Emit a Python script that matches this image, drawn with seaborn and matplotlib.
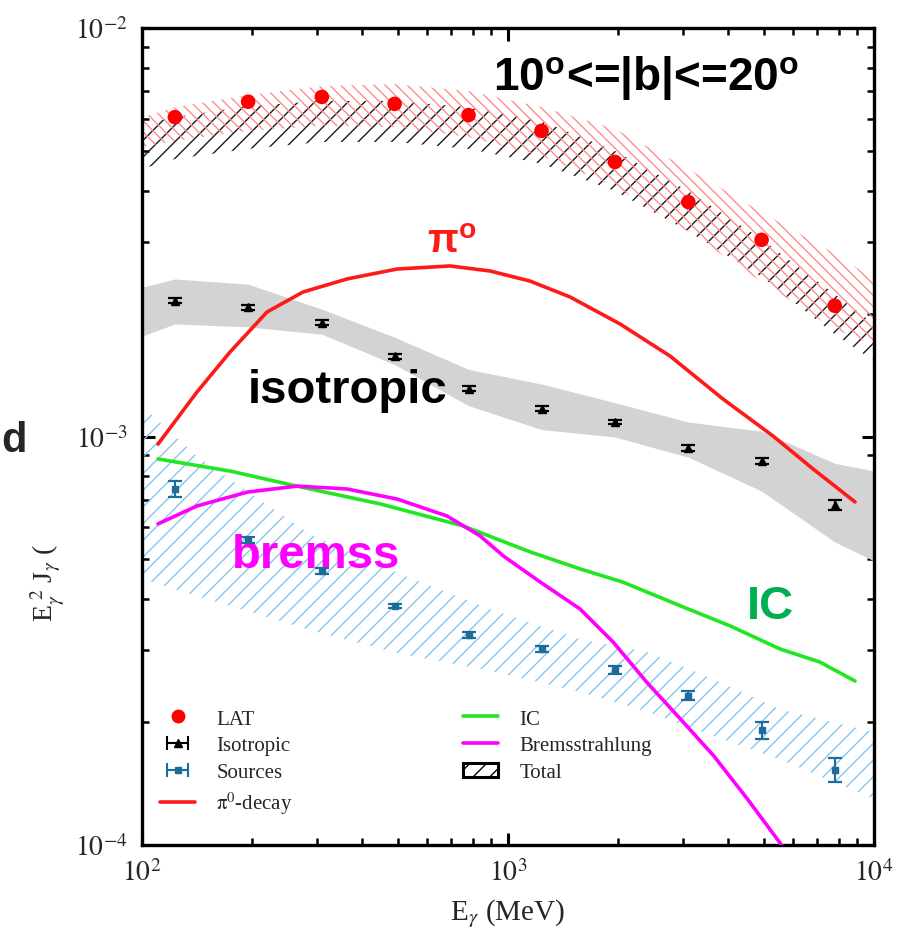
import numpy as np
import matplotlib
matplotlib.use("Agg")
import matplotlib.pyplot as plt
import seaborn as sns
from matplotlib.lines import Line2D
from matplotlib.patches import Patch
from matplotlib.ticker import NullFormatter

# ---- binned measurements (MeV, MeV cm^-2 s^-1 sr^-1) ----
energy = [123, 195, 310, 490, 780, 1235, 1960, 3110, 4930, 7810]
lat_flux = [6.05e-3, 6.6e-3, 6.78e-3, 6.52e-3, 6.12e-3, 5.6e-3, 4.70e-3, 3.75e-3, 3.03e-3, 2.09e-3]
iso_flux = [2.15e-3, 2.07e-3, 1.90e-3, 1.57e-3, 1.31e-3, 1.17e-3, 1.085e-3, 9.37e-4, 8.71e-4, 6.8e-4]
iso_err = [3e-5, 3e-5, 2.5e-5, 2e-5, 1.8e-5, 1.6e-5, 1.5e-5, 1.5e-5, 1.5e-5, 2e-5]
src_flux = [7.44e-4, 5.58e-4, 4.69e-4, 3.85e-4, 3.27e-4, 3.02e-4, 2.68e-4, 2.32e-4, 1.91e-4, 1.53e-4]
src_err = [3.4e-5, 1.0e-5, 8e-6, 5e-6, 5e-6, 5e-6, 6e-6, 6e-6, 9e-6, 1.0e-5]

# ---- uncertainty bands ----
band_energy = [100, 123, 195, 310, 490, 780, 1235, 1960, 3110, 4930, 7810, 10000]
lat_band_hi = [6.05e-3, 6.40e-3, 6.85e-3, 7.21e-3, 7.29e-3, 7.01e-3, 6.40e-3, 5.66e-3, 4.52e-3, 3.54e-3, 2.80e-3, 2.43e-3]
lat_band_lo = [5.11e-3, 5.29e-3, 5.60e-3, 5.76e-3, 5.72e-3, 5.41e-3, 4.86e-3, 4.10e-3, 3.17e-3, 2.39e-3, 1.83e-3, 1.68e-3]
tot_hi = [5.82e-3, 6.05e-3, 6.44e-3, 6.63e-3, 6.63e-3, 6.40e-3, 5.92e-3, 5.00e-3, 3.99e-3, 3.04e-3, 2.23e-3, 1.886e-3]
tot_lo = [4.52e-3, 4.78e-3, 5.06e-3, 5.26e-3, 5.26e-3, 5.06e-3, 4.65e-3, 3.99e-3, 3.18e-3, 2.46e-3, 1.78e-3, 1.53e-3]
iso_band_hi = [2.32e-3, 2.43e-3, 2.36e-3, 2.05e-3, 1.75e-3, 1.46e-3, 1.344e-3, 1.21e-3, 1.085e-3, 1.03e-3, 8.6e-4, 8.23e-4]
iso_band_lo = [1.76e-3, 1.886e-3, 1.855e-3, 1.78e-3, 1.50e-3, 1.19e-3, 1.04e-3, 9.97e-4, 8.9e-4, 7.35e-4, 5.52e-4, 4.96e-4]

src_band_energy = [100, 141, 214, 293, 507, 893, 1573, 2398, 3632, 5537, 10000]
src_band_hi = [1.188e-3, 8.96e-4, 6.915e-4, 5.71e-4, 4.61e-4, 3.78e-4, 3.19e-4, 2.97e-4, 2.55e-4, 2.15e-4, 1.89e-4]
src_band_lo = [4.48e-4, 4.07e-4, 3.64e-4, 3.34e-4, 2.94e-4, 2.67e-4, 2.37e-4, 2.12e-4, 1.85e-4, 1.62e-4, 1.296e-4]

# ---- model components ----
pi0_energy = [110.6, 141.3, 174, 219.5, 275.4, 363, 497.5, 694, 893, 1148, 1477, 2023, 2771, 3868, 5297, 6813, 8874]
pi0_flux = [9.58e-4, 1.285e-3, 1.61e-3, 2.017e-3, 2.258e-3, 2.43e-3, 2.57e-3, 2.615e-3, 2.542e-3, 2.402e-3,
            2.196e-3, 1.886e-3, 1.574e-3, 1.235e-3, 1.003e-3, 8.33e-4, 6.915e-4]
ic_energy = [110.6, 174, 265, 447, 754, 1148, 1575, 2061, 2958, 4040, 5530, 7112, 8874]
ic_flux = [8.81e-4, 8.23e-4, 7.56e-4, 6.84e-4, 6.04e-4, 5.22e-4, 4.74e-4, 4.40e-4, 3.85e-4, 3.44e-4, 3.02e-4, 2.805e-4, 2.52e-4]
brems_energy = [110.6, 141.3, 194, 265, 363, 497.5, 681, 839, 971, 1226, 1575, 1937, 2391, 2958, 3650, 4510, 6255]
brems_flux = [6.11e-4, 6.76e-4, 7.31e-4, 7.56e-4, 7.44e-4, 7.03e-4, 6.39e-4, 5.71e-4, 5.10e-4, 4.40e-4,
              3.78e-4, 3.14e-4, 2.506e-4, 2.035e-4, 1.652e-4, 1.296e-4, 8.73e-5]

# ---- axis ticks ----
xtick_values = [1e2, 1e3, 1e4]
xtick_labels = [r"$10^{2}$", r"$10^{3}$", r"$10^{4}$"]
ytick_values = [1e-4, 1e-3, 1e-2]
ytick_labels = [r"$10^{-4}$", r"$10^{-3}$", r"$10^{-2}$"]

sns.set_style("ticks")
plt.rcParams["font.family"] = ["Liberation Serif", "DejaVu Serif"]
plt.rcParams["mathtext.fontset"] = "stix"
plt.rcParams["hatch.linewidth"] = 1.0

RED = "#ff1a1a"
GREEN = "#22e622"
MAGENTA = "#ff00ff"
SRC_BLUE = "#1d6c9c"

fig = plt.figure(figsize=(9.03, 9.45), dpi=100)
ax = fig.add_axes([142 / 903, 1 - 846 / 945, 732 / 903, 817 / 945])
ax.set_xscale("log")
ax.set_yscale("log")

# bands
ax.fill_between(src_band_energy, src_band_lo, src_band_hi, facecolor="none",
                edgecolor="#86c6ee", hatch="//", linewidth=0, zorder=1)
ax.fill_between(band_energy, iso_band_lo, iso_band_hi, color="#d3d3d3", linewidth=0, zorder=1.2)
ax.fill_between(band_energy, tot_lo, tot_hi, facecolor="none", edgecolor="#1a1a1a",
                hatch="//", linewidth=0, zorder=1.4)
ax.fill_between(band_energy, lat_band_lo, lat_band_hi, facecolor="none", edgecolor="#ff8c8c",
                hatch="\\\\\\", linewidth=0, zorder=1.5)

# model curves
sns.lineplot(x=pi0_energy, y=pi0_flux, ax=ax, color=RED, lw=2.6, estimator=None, sort=False, zorder=3)
sns.lineplot(x=ic_energy, y=ic_flux, ax=ax, color=GREEN, lw=2.6, estimator=None, sort=False, zorder=3)
sns.lineplot(x=brems_energy, y=brems_flux, ax=ax, color=MAGENTA, lw=2.6, estimator=None, sort=False, zorder=3)

# data points
ax.errorbar(energy, iso_flux, yerr=iso_err, fmt="^", color="black", ms=6, capsize=5,
            elinewidth=1.5, capthick=1.6, zorder=4)
ax.errorbar(energy, src_flux, yerr=src_err, fmt="s", color=SRC_BLUE, ms=4.5, capsize=5,
            elinewidth=1.5, capthick=1.6, zorder=4)
sns.scatterplot(x=energy, y=lat_flux, ax=ax, color="red", s=110, edgecolor="none", zorder=5, legend=False)

ax.set_xlim(100, 10000)
ax.set_ylim(1e-4, 1e-2)
ax.set_xticks(xtick_values, xtick_labels)
ax.set_yticks(ytick_values, ytick_labels)
ax.xaxis.set_minor_formatter(NullFormatter())
ax.yaxis.set_minor_formatter(NullFormatter())
ax.tick_params(which="both", direction="in", top=True, right=True, color="black")
ax.tick_params(which="major", length=9, width=2.2, labelsize=20, pad=10)
ax.tick_params(which="minor", length=5, width=1.8)
for sp in ax.spines.values():
    sp.set_linewidth(2.4)
    sp.set_color("black")
ax.set_xlabel("")
ax.set_ylabel("")

# axis titles
fig.text(508 / 903, 1 - 914 / 945, r"E$_\gamma$ (MeV)", fontsize=21, ha="center", va="center")
fig.text(47 / 903, 1 - 583 / 945, r"E$_\gamma^{\ 2}$ J$_\gamma$ (", fontsize=20, rotation=90,
         ha="center", va="center")
fig.text(1 / 903, 1 - 452 / 945, "d", fontsize=30, fontweight="bold", family="Liberation Sans",
         ha="left", va="baseline")

# labels on the panel
sans = dict(family="Liberation Sans", fontweight="bold", transform=ax.transAxes, va="baseline")
ax.text(0.6885, 0.9253, r"10$^{\mathdefault{o}}$<=|b|<=20$^{\mathdefault{o}}$", fontsize=33,
        color="black", ha="center", **sans)
ax.text(0.4235, 0.7258, r"π$^{\mathdefault{o}}$", fontsize=29, color=RED, ha="center", **sans)
ax.text(0.2814, 0.5422, "isotropic", fontsize=34, color="black", ha="center", **sans)
ax.text(0.2377, 0.3403, "bremss", fontsize=34, color=MAGENTA, ha="center", **sans)
ax.text(0.8579, 0.2778, "IC", fontsize=34, color="#00b050", ha="center", **sans)

# legends
iso_proxy = ax.errorbar([np.nan], [np.nan], xerr=[1.0], fmt="^", color="black", ms=6,
                        capsize=5, elinewidth=1.5, capthick=1.5)
src_proxy = ax.errorbar([np.nan], [np.nan], xerr=[1.0], fmt="s", color=SRC_BLUE, ms=4.5,
                        capsize=5, elinewidth=1.5, capthick=1.5)
lat_proxy = Line2D([], [], ls="none", marker="o", ms=10, color="red", mec="none")
pi0_proxy = Line2D([], [], color=RED, lw=2.6)
ic_proxy = Line2D([], [], color=GREEN, lw=2.6)
br_proxy = Line2D([], [], color=MAGENTA, lw=2.6)
tot_proxy = Patch(facecolor="white", edgecolor="black", hatch="//", linewidth=2.2)

leg_kw = dict(frameon=False, fontsize=15, loc="upper left", borderaxespad=0, borderpad=0,
              handlelength=1.7, handletextpad=1.0, labelspacing=0.35)
leg1 = ax.legend([lat_proxy, iso_proxy, src_proxy, pi0_proxy],
                 ["LAT", "Isotropic", "Sources", r"$\mathrm{\pi}^0$-decay"],
                 bbox_to_anchor=(0.0246, 0.1665), **leg_kw)
ax.add_artist(leg1)
ax.legend([ic_proxy, br_proxy, tot_proxy], ["IC", "Bremsstrahlung", "Total"],
          bbox_to_anchor=(0.4385, 0.1665), **leg_kw)

fig.savefig("out.png", dpi=100)
